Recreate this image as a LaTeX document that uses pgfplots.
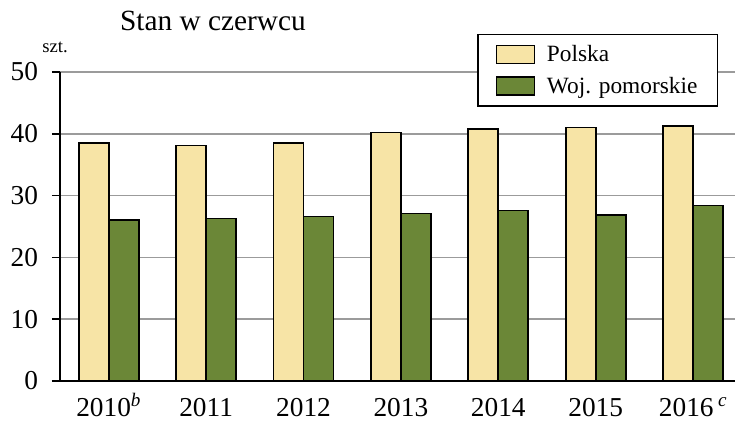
\documentclass[border=0pt]{standalone}
\usepackage{fontspec}
\setmainfont{Liberation Serif}
\usepackage{pgfplots}
\pgfplotsset{compat=1.18}
\definecolor{polska}{RGB}{247,228,166}
\definecolor{pomor}{RGB}{107,135,55}
\definecolor{gridgray}{RGB}{155,155,155}

\begin{document}
\begin{tikzpicture}
% frame of the whole 735x423 picture, 1px = 0.75pt, axis origin at (60,381)
\useasboundingbox (-45pt,-31.5pt) rectangle (506.25pt,285.75pt);
\begin{axis}[
    scale only axis,
    width=506.25pt, height=231.75pt,
    ybar=0pt, bar width=22.5pt,
    xmin=-0.5, xmax=6.43,
    ymin=0, ymax=50,
    ytick={0,10,...,50},
    xtick={0,...,6},
    xticklabels={2010\textsuperscript{\textit{b}},2011,2012,2013,2014,2015,2016\,\textsuperscript{\textit{c}}},
    axis lines*=left,
    axis line style={black, line width=1.4pt},
    x axis line style={shorten <=-6pt},
    ymajorgrids,
    major grid style={gridgray, line width=1.1pt},
    ytick style={black, line width=1.2pt},
    xtick style={draw=none},
    tick align=outside,
    major tick length=6pt,
    /pgf/number format/assume math mode=true,
    tick label style={font=\fontsize{20.5}{24}\selectfont},
    yticklabel style={xshift=-7pt},
    xticklabel style={anchor=base, inner sep=0pt, yshift=-20.5pt},
    legend style={at={(0.975,1.123)}, anchor=north east, draw=black, line width=1.1pt,
        font=\fontsize{17.5}{21}\selectfont, inner xsep=13pt, inner ysep=6pt,
        row sep=6pt, column sep=7pt, cells={anchor=west}},
    legend image code/.code={\draw[#1, line width=1.1pt] (0pt,-6.75pt) rectangle (28.5pt,6.75pt);},
    clip=false,
]
\addplot[fill=polska, draw=black, line width=1.3pt] coordinates {(0,38.5) (1,38.1) (2,38.5) (3,40.2) (4,40.8) (5,41.0) (6,41.3)};
\addlegendentry{Polska}
\addplot[fill=pomor, draw=black, line width=1.3pt] coordinates {(0,26.1) (1,26.3) (2,26.6) (3,27.1) (4,27.6) (5,26.9) (6,28.4)};
\addlegendentry{Woj. pomorskie}
\end{axis}
\node[font=\fontsize{22}{26}\selectfont] at (114.75pt,270pt) {Stan w czerwcu};
\node[font=\fontsize{14}{16}\selectfont] at (-3.75pt,250.5pt) {szt.};
\end{tikzpicture}
\end{document}
